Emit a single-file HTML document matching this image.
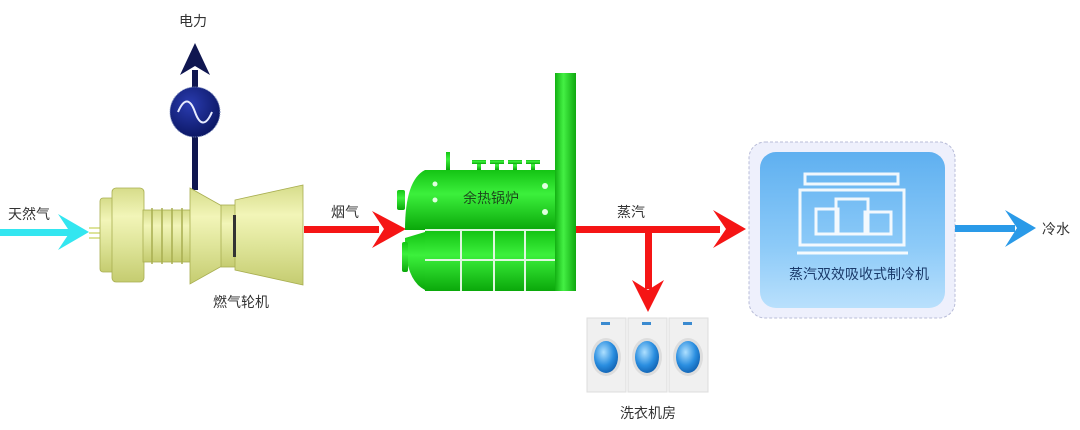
<!DOCTYPE html>
<html><head><meta charset="utf-8"><style>
body{margin:0;background:#fff}
svg{display:block}
text{font-family:"Liberation Sans","Noto Sans CJK SC",sans-serif;font-size:14px;fill:#333}
</style></head><body>
<svg width="1080" height="430" viewBox="0 0 1080 430" xmlns="http://www.w3.org/2000/svg">
<defs>
<linearGradient id="tg" x1="0" y1="0" x2="0" y2="1">
<stop offset="0" stop-color="#d6dc8a"/><stop offset="0.3" stop-color="#f2f5b8"/><stop offset="0.6" stop-color="#dfe59a"/><stop offset="1" stop-color="#c5cc70"/></linearGradient>
<linearGradient id="gg" x1="0" y1="0" x2="0" y2="1">
<stop offset="0" stop-color="#14c414"/><stop offset="0.4" stop-color="#3cf03c"/><stop offset="1" stop-color="#0aa80a"/></linearGradient>
<linearGradient id="cg" x1="0" y1="0" x2="1" y2="0">
<stop offset="0" stop-color="#12b012"/><stop offset="0.4" stop-color="#44f044"/><stop offset="1" stop-color="#10a810"/></linearGradient>
<linearGradient id="bg" x1="0" y1="0" x2="0" y2="1">
<stop offset="0" stop-color="#5fb0f0"/><stop offset="0.6" stop-color="#8ccaf8"/><stop offset="1" stop-color="#b9e0fc"/></linearGradient>
<radialGradient id="gen" cx="0.4" cy="0.35" r="0.7"><stop offset="0" stop-color="#2a3cb0"/><stop offset="1" stop-color="#0a1560"/></radialGradient>
<radialGradient id="drum" cx="0.4" cy="0.35" r="0.7"><stop offset="0" stop-color="#aee0ff"/><stop offset="0.6" stop-color="#2a8ee0"/><stop offset="1" stop-color="#1060b0"/></radialGradient>
</defs>

<rect x="192" y="70" width="6" height="120" fill="#0f1650"/>
<polygon points="195,43 180,75 195,66 210,75" fill="#0f1650"/>
<circle cx="195" cy="112" r="25" fill="url(#gen)" stroke="#8090c0" stroke-width="1" stroke-dasharray="1 1"/>
<path d="M178,112 C184,98 190,98 195,112 C200,126 206,126 212,112" stroke="#e8ecff" stroke-width="2" fill="none"/>
<text x="179" y="26">电力</text>

<rect x="0" y="229" width="70" height="7" fill="#33e6f0"/>
<polygon points="89,232 58,214 70,232 58,250" fill="#33e6f0"/>
<text x="8" y="219">天然气</text>
<rect x="89" y="227" width="12" height="2" fill="#dde39a"/><rect x="89" y="232" width="12" height="2" fill="#dde39a"/><rect x="89" y="237" width="12" height="2" fill="#dde39a"/>

<g fill="url(#tg)" stroke="#a8ae50" stroke-width="0.8">
<rect x="100" y="198" width="15" height="74" rx="3"/>
<rect x="112" y="188" width="32" height="94" rx="4"/>
<rect x="143" y="210" width="48" height="52"/>
<polygon points="190,188 222,206 222,266 190,284"/>
<rect x="221" y="205" width="15" height="62"/>
<polygon points="235,200 303,185 303,285 235,270"/>
</g>
<g stroke="#a8ae50" stroke-width="1.5"><line x1="152" y1="208" x2="152" y2="264"/><line x1="162" y1="208" x2="162" y2="264"/><line x1="172" y1="208" x2="172" y2="264"/><line x1="182" y1="208" x2="182" y2="264"/></g>
<rect x="233" y="215" width="3" height="42" fill="#333"/>
<text x="213" y="307">燃气轮机</text>

<rect x="304" y="226" width="75" height="7" fill="#f51515"/>
<polygon points="406,229 372,211 384,229 372,248" fill="#f51515"/>
<text x="331" y="217">烟气</text>

<g fill="url(#gg)">
<path d="M425,170 L425,230 L405,230 Q405,180 425,170Z"/>
<path d="M425,232 L425,290 Q405,280 405,238Z"/>
<rect x="425" y="170" width="132" height="60"/>
<rect x="425" y="231" width="132" height="60"/>
<rect x="397" y="190" width="8" height="20" rx="2"/>
<rect x="402" y="242" width="6" height="30" rx="2"/>
<rect x="446" y="152" width="4" height="18"/>
<g><rect x="477" y="162" width="4" height="8"/><rect x="472" y="160" width="14" height="4"/>
<rect x="495" y="162" width="4" height="8"/><rect x="490" y="160" width="14" height="4"/>
<rect x="513" y="162" width="4" height="8"/><rect x="508" y="160" width="14" height="4"/>
<rect x="531" y="162" width="4" height="8"/><rect x="526" y="160" width="14" height="4"/></g>
</g>
<g stroke="#dff7df" stroke-width="2"><line x1="425" y1="230" x2="557" y2="230"/><line x1="425" y1="260" x2="557" y2="260"/>
<line x1="461" y1="230" x2="461" y2="291"/><line x1="494" y1="230" x2="494" y2="291"/><line x1="525" y1="230" x2="525" y2="291"/></g>
<g fill="#e0ffe0"><circle cx="435" cy="184" r="2.5"/><circle cx="435" cy="200" r="2.5"/><circle cx="545" cy="186" r="3"/><circle cx="545" cy="212" r="3"/></g>
<rect x="555" y="73" width="21" height="218" fill="url(#cg)"/>
<text x="463" y="203" style="fill:#1c4a1c">余热锅炉</text>

<rect x="576" y="226" width="144" height="7" fill="#f51515"/>
<polygon points="746,229 713,210 726,229 713,248" fill="#f51515"/>
<rect x="645" y="229" width="7" height="60" fill="#f51515"/>
<polygon points="648,312 632,280 648,290 664,280" fill="#f51515"/>
<text x="617" y="217">蒸汽</text>

<g>
<g transform="translate(587,318)">
<rect width="39" height="74" fill="#f0f0f0" stroke="#ddd"/><rect x="14" y="4" width="9" height="3" fill="#3a8ad0"/><ellipse cx="19" cy="39" rx="15" ry="19" fill="#ddd"/><ellipse cx="19" cy="39" rx="12" ry="16" fill="url(#drum)"/></g>
<g transform="translate(628,318)">
<rect width="39" height="74" fill="#f0f0f0" stroke="#ddd"/><rect x="14" y="4" width="9" height="3" fill="#3a8ad0"/><ellipse cx="19" cy="39" rx="15" ry="19" fill="#ddd"/><ellipse cx="19" cy="39" rx="12" ry="16" fill="url(#drum)"/></g>
<g transform="translate(669,318)">
<rect width="39" height="74" fill="#f0f0f0" stroke="#ddd"/><rect x="14" y="4" width="9" height="3" fill="#3a8ad0"/><ellipse cx="19" cy="39" rx="15" ry="19" fill="#ddd"/><ellipse cx="19" cy="39" rx="12" ry="16" fill="url(#drum)"/></g>
</g>
<text x="620" y="418">洗衣机房</text>

<rect x="749" y="142" width="206" height="176" rx="16" fill="#eef0fc" stroke="#b8bcd8" stroke-dasharray="3 2"/>
<rect x="760" y="152" width="185" height="156" rx="16" fill="url(#bg)"/>
<g fill="none" stroke="#fff" stroke-width="3" opacity="0.9">
<rect x="805" y="174" width="93" height="10"/>
<rect x="800" y="190" width="104" height="55"/>
<rect x="816" y="209" width="22" height="25"/>
<rect x="836" y="199" width="32" height="35"/>
<rect x="865" y="212" width="26" height="22"/>
<line x1="797" y1="253" x2="908" y2="253"/>
</g>
<text x="789" y="279" style="fill:#1a3a6a">蒸汽双效吸收式制冷机</text>

<rect x="955" y="225" width="60" height="7" fill="#2a9ae8"/>
<polygon points="1036,228 1005,210 1017,228 1005,247" fill="#2a9ae8"/>
<text x="1042" y="234">冷水</text>
</svg>
</body></html>
